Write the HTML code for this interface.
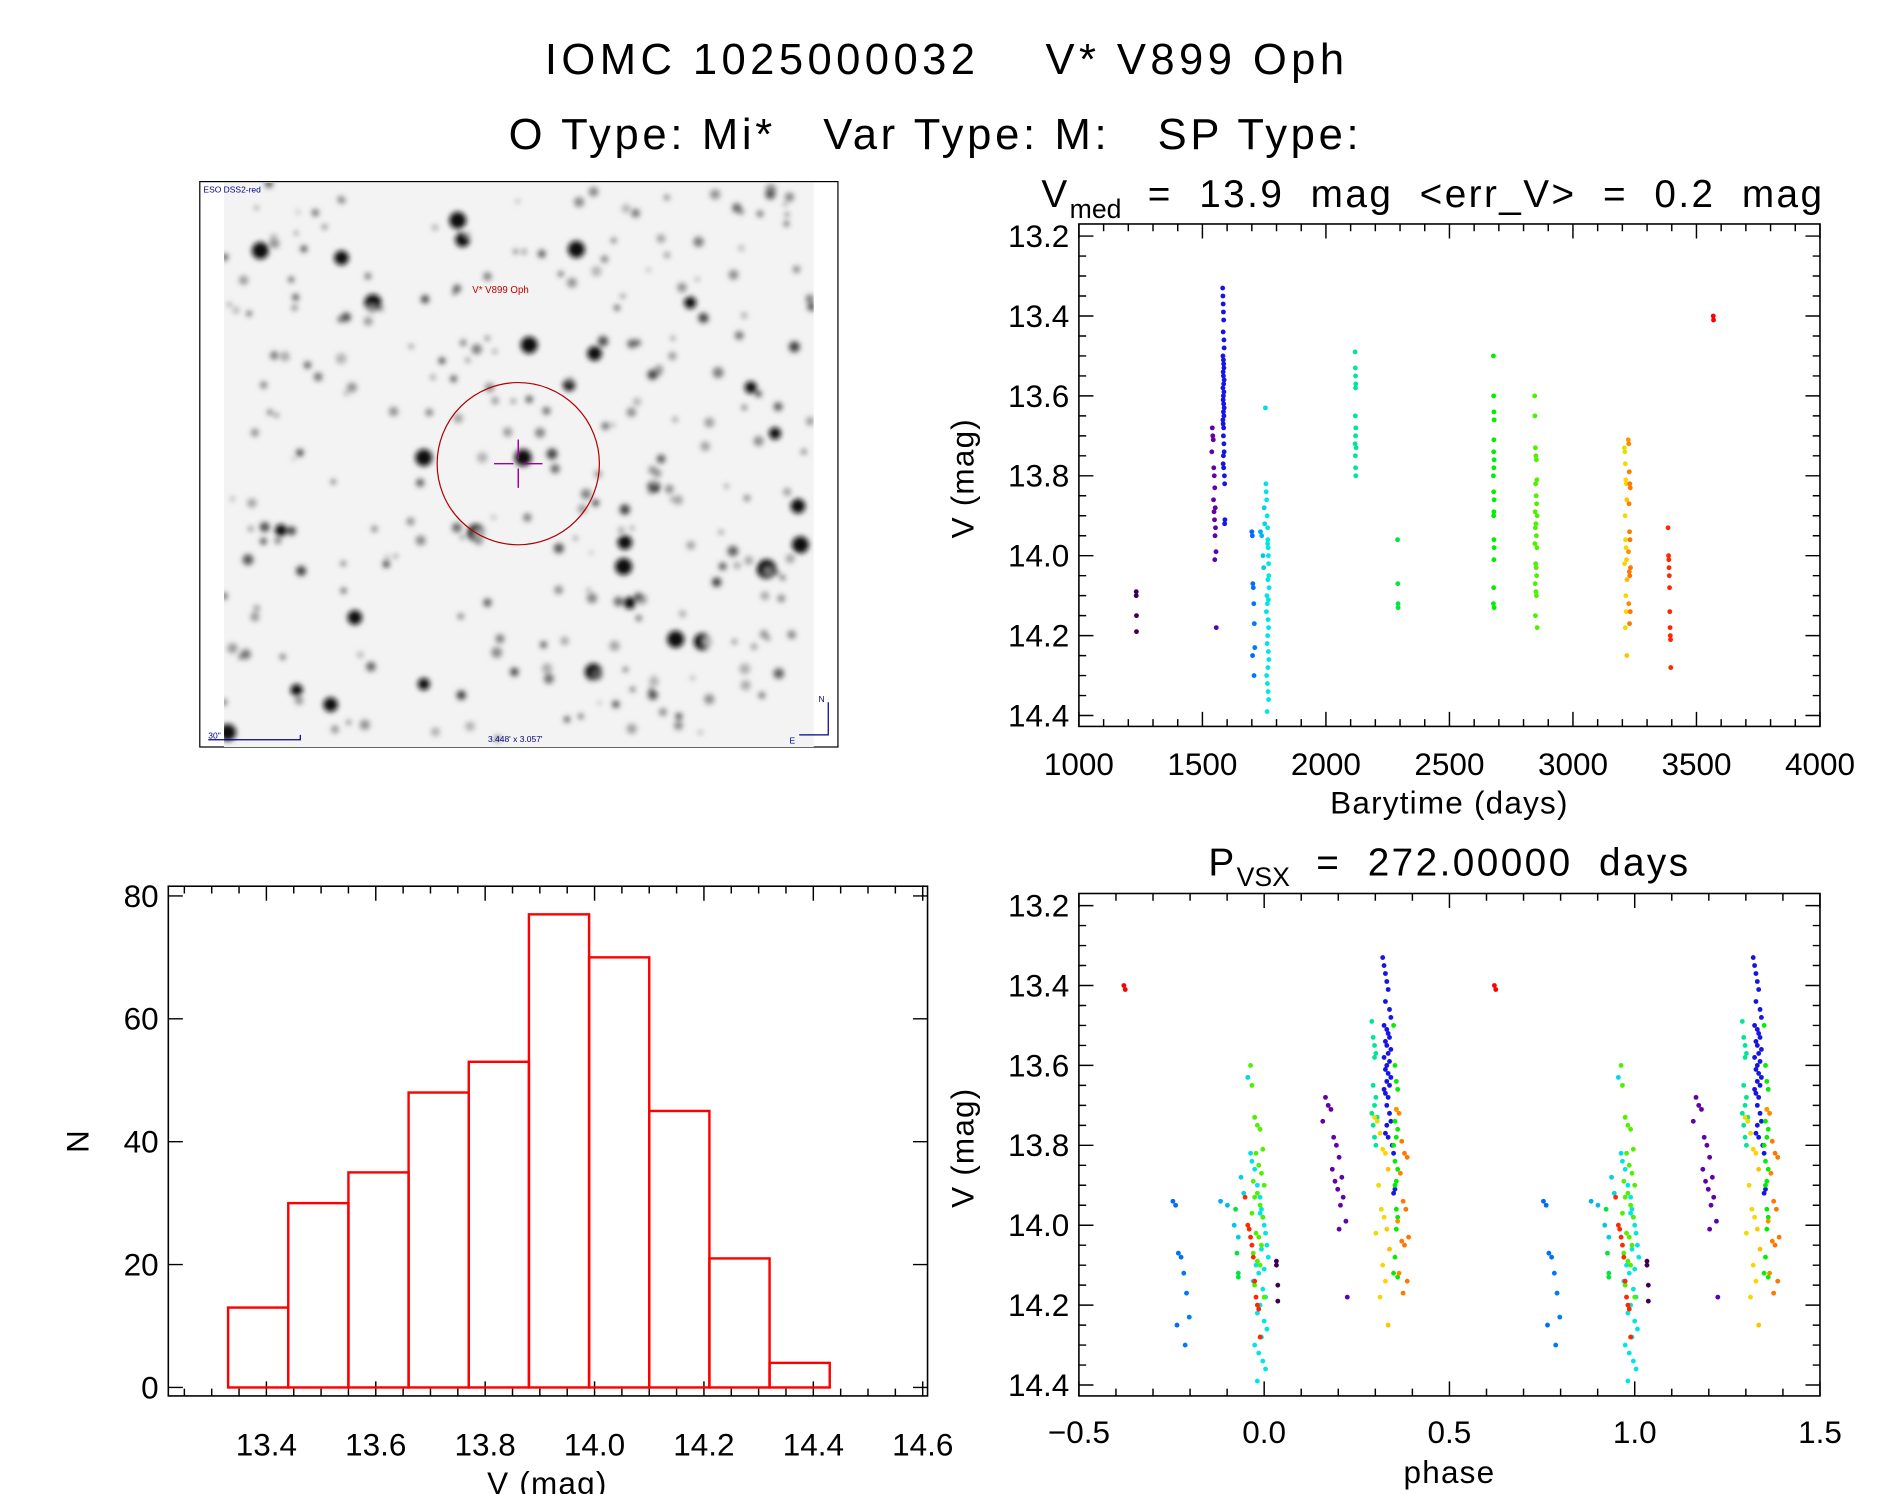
<!DOCTYPE html>
<html><head><meta charset="utf-8"><style>
html,body{margin:0;padding:0;background:#fff;}
svg{display:block;font-family:"Liberation Sans",sans-serif;}
text{white-space:pre;}
</style></head><body>
<svg id="fig" width="1889" height="1494" viewBox="0 0 1560 1234" preserveAspectRatio="none" xmlns="http://www.w3.org/2000/svg" xml:space="preserve">
<rect width="1560" height="1234" fill="#fff"/>
<text x="780" y="61" font-size="36" text-anchor="middle" textLength="660" lengthAdjust="spacing">IOMC 1025000032    V* V899 Oph</text>
<text x="771" y="123" font-size="36" text-anchor="middle" textLength="702" lengthAdjust="spacing">O Type: Mi*   Var Type: M:   SP Type:</text>

<g id="sky">
  <rect x="165" y="150" width="527" height="467" fill="#fff" stroke="#000" stroke-width="1"/>
  <rect x="185" y="151" width="487" height="466" fill="#f3f3f3"/>
  <defs><filter id="bl" x="-1" y="-1" width="3" height="3"><feGaussianBlur stdDeviation="2.2"/></filter>
  <clipPath id="skyclip"><rect x="185" y="151" width="487" height="466"/></clipPath></defs>
  <g id="stars" clip-path="url(#skyclip)" filter="url(#bl)"></g>
  <circle cx="428" cy="383" r="67" fill="none" stroke="#b00000" stroke-width="1"/>
  <path d="M408 383H424M432 383H448M428 363V379M428 387V403" stroke="#a000a0" stroke-width="1.2"/>
  <text x="168" y="159" font-size="7" fill="#00008b">ESO DSS2-red</text>
  <text x="390" y="242" font-size="8" fill="#c00000">V* V899 Oph</text>
  <text x="403" y="613" font-size="7" fill="#00008b">3.448' x 3.057'</text>
  <text x="172" y="610" font-size="7" fill="#00008b">30"</text>
  <path d="M172 611H248V607" stroke="#00008b" fill="none" stroke-width="1"/>
  <path d="M684 580V607H660" stroke="#00008b" fill="none" stroke-width="1"/>
  <text x="676" y="580" font-size="7" fill="#00008b">N</text>
  <text x="652" y="614" font-size="7" fill="#00008b">E</text>
</g>

<g id="lc"></g>
<g id="ph"></g>
<g id="hist"></g>
</svg>
<script>
// ---------- data ----------
const times = [
 1232,1232,1233,1233,
 1540,1542,1544,1538,1546,1548,1550,1545,1552,1547,1549,1553,1551,1555,1550,1556,
 1582,1583,1584,1585,1586,1584,1587,1588,1583,1585,1586,1587,1584,1585,1588,1586,1583,1587,1585,1584,1586,1588,1585,1587,1583,1584,1586,1585,1587,1588,1585,1584,1586,1589,1590,1591,1590,
 1700,1702,1704,1706,1708,1710,1712,1703,1709,
 1735,1740,1745,1748,1750,1752,1755,1757,1758,1760,1762,1764,1765,1766,1767,1768,1769,1770,1761,1763,1759,1766,1768,1764,1762,1767,1769,1765,1760,1763,1766,1768,1762,1764,1765,1767,
 2118,2119,2120,2121,2120,2119,2121,2120,2118,2122,2119,2120,2121,
 2290,2291,2292,2292,
 2678,2679,2680,2681,2680,2679,2681,2680,2678,2679,2681,2680,2679,2680,2681,2680,2679,2678,2681,
 2845,2846,2848,2850,2852,2854,2849,2851,2853,2847,2855,2850,2848,2852,2846,2854,2849,2851,2853,2847,2850,2852,2848,2855,
 3208,3210,3212,3214,3216,3218,3211,3213,3215,3217,3209,3219,3214,3216,3212,3218,
 3224,3226,3228,3230,3232,3227,3229,3231,3225,3233,3228,3230,3226,3232,3229,
 3385,3387,3388,3389,3390,3391,3392,3393,3394,3395,3396,
 3568,3569
];
const mags = [
 14.09,14.10,14.15,14.19,
 13.68,13.70,13.71,13.74,13.78,13.80,13.83,13.86,13.88,13.89,13.91,13.93,13.95,13.99,14.01,14.18,
 13.33,13.35,13.37,13.39,13.41,13.44,13.46,13.48,13.50,13.51,13.52,13.53,13.54,13.55,13.56,13.57,13.58,13.59,13.60,13.61,13.62,13.63,13.64,13.65,13.66,13.67,13.68,13.70,13.72,13.74,13.75,13.77,13.78,13.80,13.82,13.91,13.92,
 13.94,13.95,14.07,14.08,14.12,14.17,14.23,14.25,14.30,
 13.94,13.95,14.00,14.03,13.88,13.92,13.63,13.82,13.84,13.86,13.90,13.93,13.96,13.98,14.00,14.02,14.05,14.08,14.10,14.12,14.14,14.16,14.18,14.20,14.22,14.24,14.26,14.28,14.30,14.32,14.34,14.36,14.39,13.97,14.06,14.11,
 13.49,13.53,13.55,13.57,13.58,13.65,13.68,13.70,13.72,13.73,13.75,13.78,13.80,
 13.96,14.07,14.12,14.13,
 13.50,13.60,13.64,13.66,13.71,13.74,13.76,13.78,13.80,13.84,13.86,13.89,13.90,13.96,13.98,14.01,14.08,14.12,14.13,
 13.60,13.65,13.73,13.75,13.76,13.81,13.82,13.85,13.87,13.89,13.90,13.92,13.93,13.95,13.97,13.98,14.02,14.03,14.05,14.07,14.09,14.10,14.15,14.18,
 13.73,13.74,13.77,13.81,13.82,13.86,13.90,13.96,13.98,14.01,14.02,14.06,14.10,14.14,14.18,14.25,
 13.71,13.72,13.79,13.82,13.83,13.87,13.94,13.96,13.99,14.03,14.04,14.05,14.12,14.14,14.17,
 13.93,14.00,14.01,14.03,14.05,14.08,14.14,14.18,14.20,14.21,14.28,
 13.40,13.41
];
const period = 272.0;
const epoch = 1495;
const histEdges = [13.33,13.44,13.55,13.66,13.77,13.88,13.99,14.10,14.21,14.32,14.43];
const histCounts = [13,30,35,48,53,77,70,45,21,4];
const lcXTicks = [1000,1500,2000,2500,3000,3500,4000];
const magTicks = [13.2,13.4,13.6,13.8,14.0,14.2,14.4];
const phaseTicks = [-0.5,0.0,0.5,1.0,1.5];
const histXTicks = [13.4,13.6,13.8,14.0,14.2,14.4,14.6];
const histYTicks = [0,20,40,60,80];

const NS="http://www.w3.org/2000/svg";
function mk(parent,tag,attrs){const e=document.createElementNS(NS,tag);for(const k in attrs)e.setAttribute(k,attrs[k]);parent.appendChild(e);return e;}
function lin(d0,d1,r0,r1){return v=>r0+(v-d0)/(d1-d0)*(r1-r0);}

const cStops=[[1230,[60,0,80]],[1550,[100,0,170]],[1585,[20,20,230]],[1705,[0,110,255]],[1760,[0,230,230]],[2120,[0,230,150]],[2290,[0,230,60]],[2680,[0,240,0]],[2850,[80,240,0]],[3200,[200,240,0]],[3216,[255,210,0]],[3228,[255,120,0]],[3390,[255,40,0]],[3570,[255,0,0]]];
function tcol(t){
  if(t<=cStops[0][0])return 'rgb('+cStops[0][1]+')';
  for(let i=1;i<cStops.length;i++){if(t<=cStops[i][0]){const a=cStops[i-1],b=cStops[i];const f=(t-a[0])/(b[0]-a[0]);return 'rgb('+a[1].map((c,j)=>Math.round(c+f*(b[1][j]-c))).join(',')+')';}}
  return 'rgb(255,0,0)';
}

function frame(g,x0,y0,x1,y1,xScale,yScale,xMaj,xMin,yMaj,yMin,xDom,yDom,majL,minL){
  mk(g,'rect',{x:x0,y:y0,width:x1-x0,height:y1-y0,fill:'none',stroke:'#000','stroke-width':1.3});
  let p='';
  for(let v=xDom[0];v<=xDom[1]+1e-9;v+=xMin){const x=xScale(v);if(x<x0-0.5||x>x1+0.5)continue;const isM=Math.abs(v/xMaj-Math.round(v/xMaj))<1e-6;const L=isM?majL:minL;p+=`M${x} ${y1}V${y1-L}M${x} ${y0}V${y0+L}`;}
  for(let v=yDom[0];v<=yDom[1]+1e-9;v+=yMin){const y=yScale(v);if(y<y0-0.5||y>y1+0.5)continue;const isM=Math.abs(v/yMaj-Math.round(v/yMaj))<1e-6;const L=isM?majL:minL;p+=`M${x0} ${y}H${x0+L}M${x1} ${y}H${x1-L}`;}
  const t=mk(g,'path',{d:p,stroke:'#000','stroke-width':1.2,fill:'none'});
  
  
}

// ---------- light curve ----------
(function(){
  const g=document.getElementById('lc');
  const X0=891,X1=1503,Y0=185,Y1=600;
  const xs=lin(1000,4000,X0,X1), ys=lin(13.2,14.4,195,591);
  frame(g,X0,Y0,X1,Y1,xs,ys,500,100,0.2,0.05,[1000,4000],[13.15,14.45],12,6);
  lcXTicks.forEach(v=>{const t=mk(g,'text',{x:xs(v),y:640,'font-size':26,'text-anchor':'middle'});t.textContent=v;
    
    });
  magTicks.forEach(v=>{const t=mk(g,'text',{x:883,y:ys(v)+9,'font-size':26,'text-anchor':'end'});t.textContent=v.toFixed(1);
    
    });
  const xl=mk(g,'text',{x:1197,y:672,'font-size':26,'text-anchor':'middle','letter-spacing':1});xl.textContent='Barytime (days)';
  
  
  const yl=mk(g,'text',{x:0,y:0,'font-size':26,'text-anchor':'middle','letter-spacing':1,transform:'translate(804,395) rotate(-90)'});yl.textContent='V (mag)';
  
  
  const ti=mk(g,'text',{x:860,y:171,'font-size':32,'letter-spacing':2});
  ti.innerHTML='V<tspan font-size="22" dy="9" letter-spacing="0">med</tspan><tspan dy="-9">  =  13.9  mag  &lt;err_V&gt;  =  0.2  mag</tspan>';
  
  
  times.forEach((t,i)=>{const c=mk(g,'circle',{cx:xs(t),cy:ys(mags[i]),r:2,fill:tcol(t)});
    
    });
})();

// ---------- phase plot ----------
(function(){
  const g=document.getElementById('ph');
  const X0=891,X1=1503,Y0=738,Y1=1153;
  const xs=lin(-0.5,1.5,X0,X1), ys=lin(13.2,14.4,748,1144);
  frame(g,X0,Y0,X1,Y1,xs,ys,0.5,0.1,0.2,0.05,[-0.5,1.5],[13.15,14.45],12,6);
  phaseTicks.forEach(v=>{const t=mk(g,'text',{x:xs(v),y:1192,'font-size':26,'text-anchor':'middle'});t.textContent=(v<0?'\u2212':'')+Math.abs(v).toFixed(1);
    
    });
  magTicks.forEach(v=>{const t=mk(g,'text',{x:883,y:ys(v)+9,'font-size':26,'text-anchor':'end'});t.textContent=v.toFixed(1);
    
    });
  const xl=mk(g,'text',{x:1197,y:1225,'font-size':26,'text-anchor':'middle','letter-spacing':1});xl.textContent='phase';
  
  
  const yl=mk(g,'text',{x:0,y:0,'font-size':26,'text-anchor':'middle','letter-spacing':1,transform:'translate(804,948) rotate(-90)'});yl.textContent='V (mag)';
  
  
  const ti=mk(g,'text',{x:1197,y:723,'font-size':32,'text-anchor':'middle','letter-spacing':2});
  ti.innerHTML='P<tspan font-size="22" dy="9" letter-spacing="0">VSX</tspan><tspan dy="-9">  =  272.00000  days</tspan>';
  
  
  times.forEach((t,i)=>{let ph=((t-epoch)/period)%1; if(ph<0)ph+=1; if(ph>=0.5)ph-=1;
    [ph,ph+1].forEach(p=>{const c=mk(g,'circle',{cx:xs(p),cy:ys(mags[i]),r:2,fill:tcol(t)});
      
      });});
})();

// ---------- histogram ----------
(function(){
  const g=document.getElementById('hist');
  const X0=139,X1=766,Y0=732,Y1=1153;
  const xs=lin(13.4,14.6,220,762), ys=lin(0,80,1146,740);
  frame(g,X0,Y0,X1,Y1,xs,ys,0.2,0.05,20,20,[13.2,14.65],[0,80],12,6);
  histXTicks.forEach(v=>{const t=mk(g,'text',{x:xs(v),y:1202,'font-size':26,'text-anchor':'middle'});t.textContent=v.toFixed(1);
    
    });
  histYTicks.forEach(v=>{const t=mk(g,'text',{x:131,y:ys(v)+9,'font-size':26,'text-anchor':'end'});t.textContent=v;
    
    });
  const xl=mk(g,'text',{x:452,y:1234,'font-size':26,'text-anchor':'middle','letter-spacing':1});xl.textContent='V (mag)';
  
  
  const yl=mk(g,'text',{x:0,y:0,'font-size':26,'text-anchor':'middle',transform:'translate(73,943) rotate(-90)'});yl.textContent='N';
  
  
  histCounts.forEach((n,i)=>{const xa=xs(histEdges[i]),xb=xs(histEdges[i+1]);
    const r=mk(g,'rect',{x:xa,y:ys(n),width:xb-xa,height:ys(0)-ys(n),fill:'none',stroke:'#ff0000','stroke-width':2});
    
    });
})();

// ---------- sky image (decorative) ----------
(function(){
  const g=document.getElementById('stars');
  const big=[[215,207,7],[378,182,7],[382,198,6],[282,213,6],[308,250,7],[437,285,7],[491,292,6],[476,206,7],[350,378,7],[432,378,7],[393,440,7],[515,468,7],[633,470,8],[661,450,7],[293,510,6],[580,530,7],[558,528,7],[490,555,7],[273,582,6],[188,605,7],[659,418,6],[570,250,5],[620,320,5],[470,318,5],[516,448,6],[540,402,5],[640,358,5],[232,438,5],[245,570,5],[350,565,5],[520,498,5]];
  big.forEach(s=>mk(g,'circle',{cx:s[0],cy:s[1],r:s[2],fill:'#111'}));
  let seed=7;const rnd=()=>{seed=(seed*16807)%2147483647;return seed/2147483647;};
  for(let i=0;i<260;i++){const x=185+rnd()*487,y=151+rnd()*466,r=1.5+rnd()*3;const v=Math.round(60+rnd()*120);
    mk(g,'circle',{cx:x,cy:y,r:r,fill:`rgb(${v},${v},${v})`});}
})();
</script>
</body></html>
